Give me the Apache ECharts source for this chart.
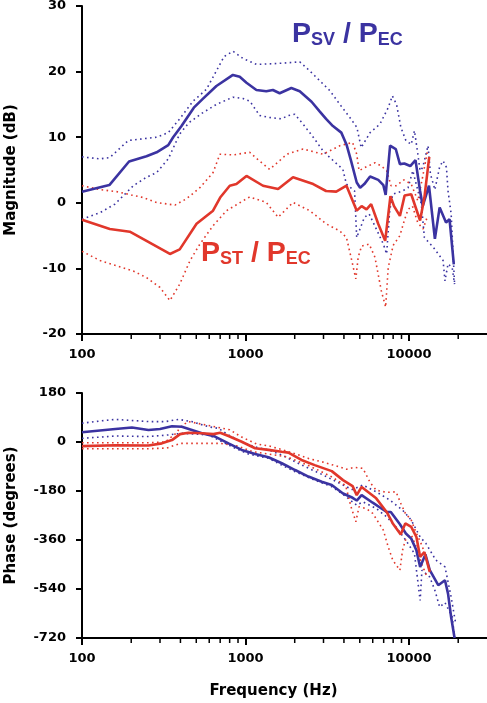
<!DOCTYPE html>
<html>
<head>
<meta charset="utf-8">
<script src="https://cdn.jsdelivr.net/npm/echarts@6/dist/echarts.min.js"></script>
<style>
html,body{margin:0;padding:0;background:#fff;}
#chart{width:487px;height:703px;}
</style>
</head>
<body>
<div id="chart"></div>
<script>
// ---------- Magnitude panel (dB) ----------
const magSvFreq = [100,147,194,248,286,337,361,406,483,546,664,838,922,1014,1166,1340,1471,1618,1907,2146,2536,2849,3110,3426,3855,4146,4423,4790,5024,5330,5782,6486,6969,7200,7663,8300,8800,9360,10180,10960,11690,12130,13250,14400,15400,16850,17700,18800];
const magSv = [1.7,2.7,6.3,7.1,7.7,8.8,10.0,11.7,14.5,15.8,17.8,19.5,19.2,18.3,17.2,17.0,17.2,16.7,17.5,17.0,15.4,13.9,12.8,11.7,10.7,8.9,6.4,3.1,2.3,2.85,4.0,3.5,2.7,1.2,8.7,8.2,5.9,6.0,5.6,6.5,1.8,-0.5,2.6,-5.5,-0.7,-3.0,-2.5,-9.4];

const magSvHiFreq = [100,129,148,192,226,286,337,396,478,577,660,740,838,966,1166,1471,1953,2146,2474,2849,3280,3776,4346,4800,5100,5780,6640,7460,7910,8390,8920,9570,10320,10800,11330,11690,12130,13080,13520,14400,15400,16160,16950,17330,18110,19000];
const magSvHi = [7.0,6.7,6.9,9.5,9.7,10.0,10.7,12.8,15.5,17.3,20.0,22.3,23.1,22.0,21.1,21.2,21.4,21.5,20.1,18.6,17.1,15.0,13.0,11.5,8.4,10.7,12.0,14.5,16.3,15.0,11.5,9.5,8.9,11.0,7.4,4.9,5.4,8.7,4.4,2.0,5.5,6.4,5.4,1.8,-1.7,-12.4];

const magSvLoFreq = [100,129,159,206,248,286,337,396,450,546,664,838,966,1062,1221,1405,1660,1823,2000,2250,2595,2985,3280,3940,4140,4650,4790,5340,5710,6970,7300,7620,7950,9130,9870,10550,11900,12420,14100,14600,16160,16600,17330,18380,19000];
const magSvLo = [-2.5,-1.5,-0.2,2.6,3.9,4.6,6.7,10.5,12.2,13.7,15.0,16.1,15.9,15.5,13.3,13.0,12.8,13.3,13.5,12.0,10.0,7.9,6.9,5.1,2.85,1.8,-5.3,-2.2,-1.7,-6.3,-7.8,-1.2,1.3,1.8,2.3,4.9,-0.2,-5.3,-6.8,-7.3,-8.8,-11.9,-9.3,-9.9,-12.4];

const magStFreq = [100,148,196,248,345,396,502,633,700,801,880,1014,1280,1583,1953,2595,3110,3590,4146,4790,5130,5500,5870,6480,7150,7700,8100,8800,9400,10320,11690,12420,13300];
const magSt = [-2.6,-4.0,-4.4,-5.8,-7.8,-7.1,-3.2,-1.2,0.8,2.6,2.85,4.1,2.6,2.1,3.9,2.85,1.8,1.7,2.6,-1.2,-0.5,-1.0,-0.2,-3.2,-5.8,1.0,-0.5,-2.0,1.1,1.3,-2.7,0.8,7.0];

const magStHiFreq = [100,130,163,200,237,286,370,435,526,633,697,838,1062,1200,1405,1790,2250,2985,3776,4520,4790,4950,5500,6200,6770,7300,7770,8330,9300,10320,11330,12130,13000];
const magStHi = [2.6,2.0,1.7,1.2,0.8,0.05,-0.35,0.6,2.3,4.6,7.4,7.3,7.7,6.5,5.1,7.4,8.2,7.4,8.7,9.2,7.4,4.9,5.5,6.1,5.6,4.9,2.6,2.6,3.5,2.85,0.3,4.0,8.0];

const magStLoFreq = [100,129,163,206,248,300,345,396,458,526,633,766,922,1062,1340,1583,1953,2474,3110,3776,4146,4420,4730,4890,5130,5710,6190,6770,7200,7460,8000,8800,9360,9870,10500,11300,12200,13000];
const magStLo = [-7.4,-8.8,-9.6,-10.4,-11.4,-12.9,-14.9,-12.4,-8.8,-6.3,-3.5,-1.2,0.0,0.9,0.05,-2.2,0.05,-1.2,-3.2,-4.3,-5.3,-8.3,-11.6,-8.3,-6.6,-6.3,-8.3,-13.4,-15.9,-9.9,-6.5,-5.0,-2.7,-1.0,-0.5,-3.0,-4.0,-2.0];

// ---------- Phase panel (degrees) ----------
const phSvFreq = [100,160,202,255,300,355,408,470,541,651,787,948,1145,1382,1667,2011,2425,2926,3370,3950,4520,4790,5130,6000,7300,7740,8800,9570,10320,11100,11700,12600,13400,15100,16600,17330,18100,19000];
const phSv = [36,48,53,44,48,58,56,44,32,20,-5,-29,-44,-56,-78,-103,-127,-146,-158,-189,-205,-215,-195,-223,-257,-257,-302,-336,-355,-398,-459,-413,-471,-526,-508,-557,-643,-720];

const phSvHiFreq = [100,132,160,255,323,390,470,594,684,787,948,1145,1400,1700,2050,2500,2840,3776,4500,5230,6300,7620,9130,10320,11700,12700,14600,16600,18100,19300];
const phSvHi = [69,78,83,75,75,83,75,56,50,26,0,-18,-30,-50,-75,-100,-115,-152,-175,-158,-183,-213,-250,-287,-349,-373,-434,-459,-569,-667];

const phSvLoFreq = [100,160,255,338,408,594,717,866,1040,1382,1667,2011,2650,3370,4000,4790,5230,6300,7300,8330,9570,10800,11700,12000,13400,14400,15400,16600,18400,19000];
const phSvLo = [13.5,22,20,26,32,26,1,-23,-44,-60,-85,-109,-140,-164,-195,-232,-220,-244,-275,-312,-361,-410,-582,-471,-496,-545,-606,-590,-643,-720];

const phStFreq = [100,160,255,308,355,398,448,541,636,700,787,948,1145,1382,1667,1830,2200,2650,3370,3950,4520,4790,5130,6300,7300,7960,8900,9490,10320,11100,11700,12420,13400];
const phSt = [-15,-12,-13,-5,7,29,34,32,29,34,22,1,-23,-29,-36,-39,-66,-85,-107,-140,-162,-195,-165,-207,-257,-299,-340,-299,-312,-349,-422,-404,-477];

const phStHiFreq = [100,250,323,372,408,448,651,800,948,1166,1400,1696,2050,2474,2900,3590,4146,4650,5230,5800,6300,7300,8330,8920,9500,10320,11000,12000,13000];
const phStHi = [-3,-3,0,30,60,75,56,45,18,-7,-15,-29,-45,-62,-72,-88,-100,-93,-97,-150,-177,-185,-183,-226,-262,-287,-330,-380,-440];

const phStLoFreq = [100,250,330,400,550,700,900,1100,1400,1800,2400,3300,4100,4420,4730,4950,5500,6000,6970,7460,7960,8800,9130,9500,10300,11000,12000,13000];
const phStLo = [-25,-25,-22,-5,-5,-5,-15,-35,-45,-55,-85,-125,-160,-238,-293,-238,-245,-262,-324,-385,-434,-471,-398,-361,-340,-380,-450,-500];

// ---------- Axes ----------
const xMin = 100, xMax = 30000;
const minorTickFreqs = [200,300,400,500,600,700,800,900,2000,3000,4000,5000,6000,7000,8000,9000,20000];
const magTicks = { min: -20, max: 30, interval: 10 };
const phTicks = { min: -720, max: 180, interval: 180 };

const BLUE = '#3b33a1';
const RED = '#e1372b';
const FONT = 'DejaVu Sans';

function zip(f, v) { return f.map((x, i) => [x, v[i]]); }

function solid(name, f, v, color, idx) {
  return { name, type: 'line', xAxisIndex: idx, yAxisIndex: idx, data: zip(f, v),
    symbol: 'none', z: 5, lineStyle: { color, width: 2.6 }, itemStyle: { color } };
}
function dotted(name, f, v, color, idx) {
  return { name, type: 'line', xAxisIndex: idx, yAxisIndex: idx, data: zip(f, v),
    symbol: 'none', z: 3, lineStyle: { color, width: 1.6, type: [1.6, 3.4] }, itemStyle: { color } };
}
function minorTicks(idx, yMin) {
  return { type: 'custom', xAxisIndex: idx, yAxisIndex: idx, silent: true, clip: false, z: 10,
    data: minorTickFreqs.map(f => [f, yMin]), encode: { x: 0, y: 1 },
    renderItem: (params, api) => {
      const p = api.coord([api.value(0), api.value(1)]);
      return { type: 'line', shape: { x1: p[0], y1: p[1], x2: p[0], y2: p[1] + 5 },
        style: { stroke: '#000', lineWidth: 1.5 } };
    } };
}

function xAxis(idx, name) {
  return { type: 'log', logBase: 10, gridIndex: idx, min: xMin, max: xMax,
    name: name || '', nameLocation: 'middle', nameGap: 46,
    nameTextStyle: { fontFamily: FONT, fontWeight: 'bold', fontSize: 15, color: '#000', padding: [0, 22, 0, 0] },
    axisLine: { onZero: false, lineStyle: { color: '#000', width: 2 } },
    axisTick: { length: 7, lineStyle: { color: '#000', width: 2 } },
    minorTick: { show: false },
    splitLine: { show: false },
    axisLabel: { fontFamily: FONT, fontWeight: 'bold', fontSize: 13, color: '#000', margin: 14,
      showMaxLabel: false, formatter: v => String(Math.round(v)) } };
}
function yAxis(idx, t, name) {
  return { type: 'value', gridIndex: idx, min: t.min, max: t.max, interval: t.interval,
    name, nameLocation: 'middle', nameGap: 63,
    nameTextStyle: { fontFamily: FONT, fontWeight: 'bold', fontSize: 15, color: '#000' },
    axisLine: { show: true, onZero: false, lineStyle: { color: '#000', width: 2 } },
    axisTick: { show: true, length: 6, lineStyle: { color: '#000', width: 2 } },
    splitLine: { show: false },
    axisLabel: { fontFamily: FONT, fontWeight: 'bold', fontSize: 13, color: '#000', margin: 16 } };
}

const chart = echarts.init(document.getElementById('chart'), null, { renderer: 'canvas' });
chart.setOption({
  animation: false,
  backgroundColor: '#fff',
  grid: [
    { left: 82, top: 6, width: 405, height: 328, containLabel: false, outerBoundsMode: 'none' },
    { left: 82, top: 393, width: 405, height: 245, containLabel: false, outerBoundsMode: 'none' }
  ],
  xAxis: [xAxis(0), xAxis(1, 'Frequency (Hz)')],
  yAxis: [yAxis(0, magTicks, 'Magnitude (dB)'), yAxis(1, phTicks, 'Phase (degrees)')],
  graphic: [
    { type: 'text', left: 292, top: 20, z: 20,
      style: { text: '{p|P}{s|SV}{p| / P}{s|EC}',
        rich: {
          p: { fontFamily: 'Liberation Sans', fontWeight: 'bold', fontSize: 28.5, lineHeight: 28, fill: BLUE, verticalAlign: 'bottom' },
          s: { fontFamily: 'Liberation Sans', fontWeight: 'bold', fontSize: 18, lineHeight: 18, fill: BLUE, verticalAlign: 'bottom' }
        } } },
    { type: 'text', left: 201, top: 239, z: 20,
      style: { text: '{p|P}{s|ST}{p| / P}{s|EC}',
        rich: {
          p: { fontFamily: 'Liberation Sans', fontWeight: 'bold', fontSize: 28.5, lineHeight: 28, fill: RED, verticalAlign: 'bottom' },
          s: { fontFamily: 'Liberation Sans', fontWeight: 'bold', fontSize: 18, lineHeight: 18, fill: RED, verticalAlign: 'bottom' }
        } } }
  ],
  series: [
    dotted('SV hi', magSvHiFreq, magSvHi, BLUE, 0),
    dotted('SV lo', magSvLoFreq, magSvLo, BLUE, 0),
    dotted('ST hi', magStHiFreq, magStHi, RED, 0),
    dotted('ST lo', magStLoFreq, magStLo, RED, 0),
    solid('SV', magSvFreq, magSv, BLUE, 0),
    solid('ST', magStFreq, magSt, RED, 0),
    dotted('SV hi ph', phSvHiFreq, phSvHi, BLUE, 1),
    dotted('SV lo ph', phSvLoFreq, phSvLo, BLUE, 1),
    dotted('ST hi ph', phStHiFreq, phStHi, RED, 1),
    dotted('ST lo ph', phStLoFreq, phStLo, RED, 1),
    solid('SV ph', phSvFreq, phSv, BLUE, 1),
    solid('ST ph', phStFreq, phSt, RED, 1),
    minorTicks(0, magTicks.min),
    minorTicks(1, phTicks.min)
  ]
});
</script>
</body>
</html>
